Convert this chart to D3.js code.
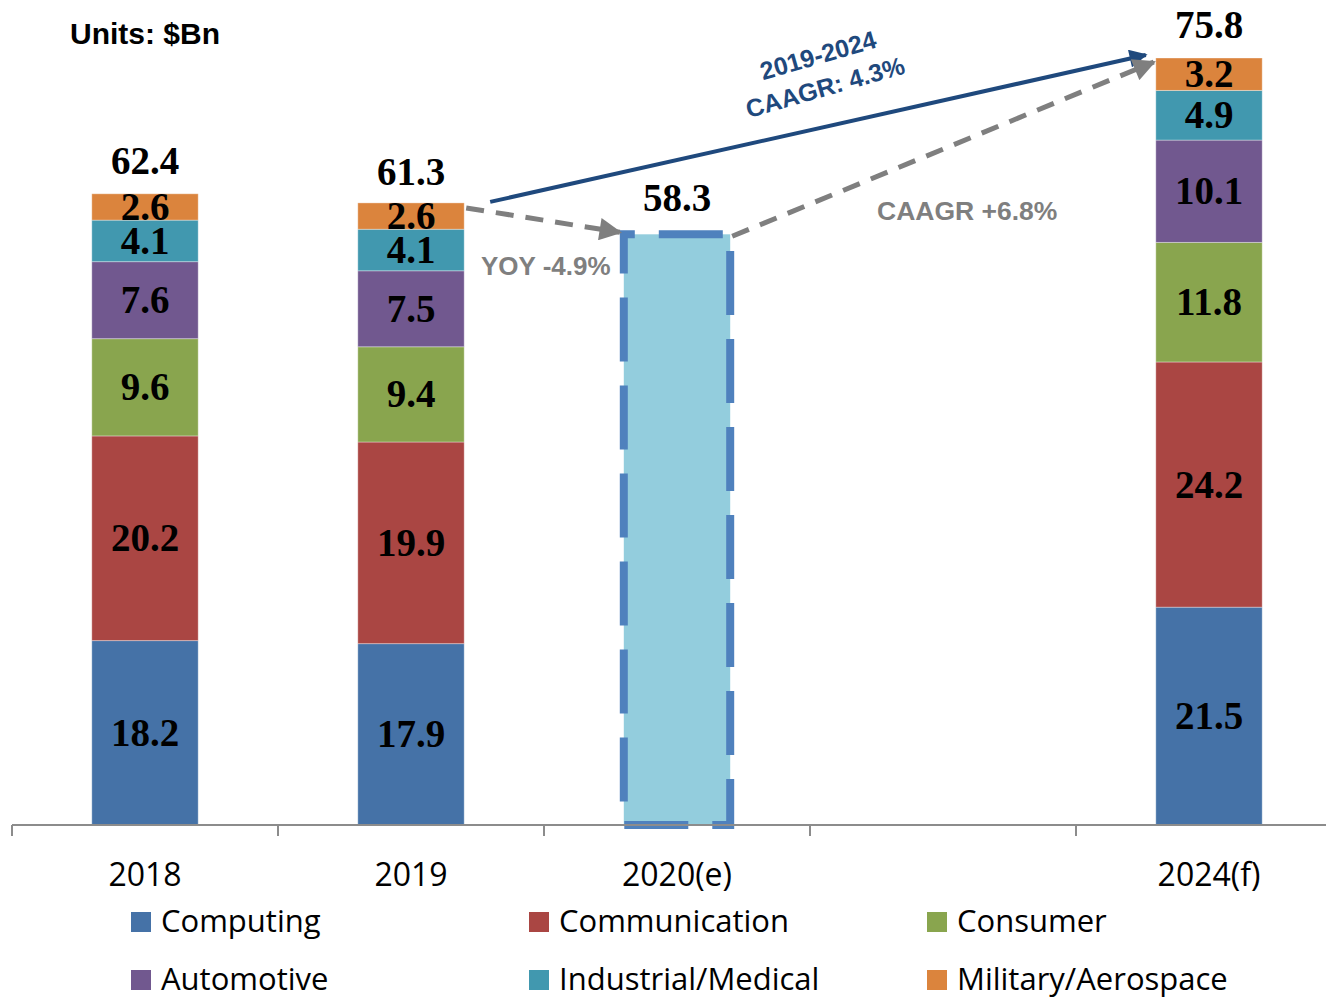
<!DOCTYPE html>
<html>
<head>
<meta charset="utf-8">
<script src="https://cdn.jsdelivr.net/npm/d3@7"></script>
<style>
  body { margin: 0; background: #fff; }
  svg { display: block; }
</style>
</head>
<body>
<div id="chart"></div>
<script>
// Chart data
const categories = ["2018", "2019", "2020(e)", "gap", "2024(f)"];
const tickLabels = ["2018", "2019", "2020(e)", "", "2024(f)"];
const segments = ["Computing", "Communication", "Consumer", "Automotive", "Industrial/Medical", "Military/Aerospace"];
const colors = ["#4572A7", "#AA4643", "#89A54E", "#71588F", "#4198AF", "#DB843D"];

const computing     = {"2018": 18.2, "2019": 17.9, "2024(f)": 21.5};
const communication = {"2018": 20.2, "2019": 19.9, "2024(f)": 24.2};
const consumer      = {"2018": 9.6,  "2019": 9.4,  "2024(f)": 11.8};
const automotive    = {"2018": 7.6,  "2019": 7.5,  "2024(f)": 10.1};
const industrial    = {"2018": 4.1,  "2019": 4.1,  "2024(f)": 4.9};
const military      = {"2018": 2.6,  "2019": 2.6,  "2024(f)": 3.2};
const totals        = {"2018": 62.4, "2019": 61.3, "2020(e)": 58.3, "2024(f)": 75.8};

const stackedYears = ["2018", "2019", "2024(f)"];
const estimateYear = "2020(e)";
const seriesValues = [computing, communication, consumer, automotive, industrial, military];

const width = 1326, height = 999;
const svg = d3.select("#chart").append("svg")
    .attr("width", width)
    .attr("height", height);

// Scales
const x = d3.scaleBand().domain(categories).range([12, 1342]).padding(0);
const barW = x.bandwidth() * 0.4;
const barX = c => x(c) + (x.bandwidth() - barW) / 2;
const y = d3.scaleLinear().domain([0, 75.8]).range([825, 57]);

// Build stacked rows
const rows = stackedYears.map(yr => {
    const r = {year: yr};
    segments.forEach((s, i) => r[s] = seriesValues[i][yr]);
    return r;
});
const stack = d3.stack().keys(segments)(rows);

// Bars
const layers = svg.append("g").selectAll("g")
    .data(stack)
    .enter().append("g")
    .attr("fill", (d, i) => colors[i]);

layers.selectAll("rect")
    .data(d => d)
    .enter().append("rect")
    .attr("x", d => barX(d.data.year))
    .attr("y", d => y(d[1]))
    .attr("width", barW)
    .attr("height", d => y(d[0]) - y(d[1]))
    .attr("stroke", "rgba(255,255,255,0.35)")
    .attr("stroke-width", 1);

// Segment value labels
layers.selectAll("text")
    .data((d, i) => d.map(v => ({v: v, key: segments[i]})))
    .enter().append("text")
    .attr("x", d => barX(d.v.data.year) + barW / 2)
    .attr("y", d => (y(d.v[0]) + y(d.v[1])) / 2 + 13)
    .attr("text-anchor", "middle")
    .attr("font-family", "Liberation Serif")
    .attr("font-weight", "bold")
    .attr("font-size", 39)
    .attr("fill", "#000")
    .text(d => d.v.data[d.key].toFixed(1));

// Estimated 2020 bar (dashed box)
const ex0 = barX(estimateYear), ex1 = ex0 + barW, eyTop = y(totals[estimateYear]), eyBot = y(0);
svg.append("rect")
    .attr("x", ex0).attr("y", eyTop)
    .attr("width", barW).attr("height", eyBot - eyTop)
    .attr("fill", "#93CDDD");
svg.append("path")
    .attr("d", `M${ex0},${eyTop}H${ex1}V${eyBot}H${ex0}Z`)
    .attr("fill", "none")
    .attr("stroke", "#4F81BD")
    .attr("stroke-width", 8)
    .attr("stroke-dasharray", "64 24")
    .attr("stroke-dashoffset", 53);

// X axis
const axis = svg.append("g");
axis.append("line")
    .attr("x1", 12).attr("x2", width)
    .attr("y1", y(0)).attr("y2", y(0))
    .attr("stroke", "#8C8C8C").attr("stroke-width", 2);
axis.selectAll(".tick")
    .data(categories)
    .enter().append("line")
    .attr("x1", d => x(d)).attr("x2", d => x(d))
    .attr("y1", y(0)).attr("y2", y(0) + 11)
    .attr("stroke", "#8C8C8C").attr("stroke-width", 2);
axis.selectAll(".lbl")
    .data(categories)
    .enter().append("text")
    .attr("x", d => x(d) + x.bandwidth() / 2)
    .attr("y", 886)
    .attr("text-anchor", "middle")
    .attr("font-family", "Open Sans")
    .attr("font-size", 32)
    .attr("fill", "#000")
    .text((d, i) => tickLabels[i]);

// Total labels
svg.selectAll(".total")
    .data(Object.keys(totals))
    .enter().append("text")
    .attr("x", d => x(d) + x.bandwidth() / 2)
    .attr("y", d => y(totals[d]) - (d === estimateYear ? 23 : 19))
    .attr("text-anchor", "middle")
    .attr("font-family", "Liberation Serif")
    .attr("font-weight", "bold")
    .attr("font-size", 39)
    .attr("fill", "#000")
    .text(d => totals[d].toFixed(1));

// Arrow markers
const defs = svg.append("defs");
function marker(id, color) {
    defs.append("marker")
        .attr("id", id)
        .attr("viewBox", "0 0 10 10")
        .attr("refX", 9).attr("refY", 5)
        .attr("markerWidth", 5).attr("markerHeight", 4.5)
        .attr("markerUnits", "strokeWidth")
        .attr("orient", "auto")
        .append("path")
        .attr("d", "M0,0L10,5L0,10Z")
        .attr("fill", color);
}
marker("arrBlue", "#1F497D");
marker("arrGray", "#7F7F7F");

// 2019 -> 2024 CAAGR arrow
svg.append("line")
    .attr("x1", barX("2019") + barW + 26).attr("y1", y(totals["2019"]) - 2)
    .attr("x2", barX("2024(f)") - 10).attr("y2", y(totals["2024(f)"]) - 2)
    .attr("stroke", "#1F497D").attr("stroke-width", 4)
    .attr("marker-end", "url(#arrBlue)");

// YOY dashed arrow 2019 -> 2020
svg.append("line")
    .attr("x1", barX("2019") + barW + 2).attr("y1", y(totals["2019"]) + 4)
    .attr("x2", ex0 - 4).attr("y2", eyTop - 2)
    .attr("stroke", "#7F7F7F").attr("stroke-width", 5)
    .attr("stroke-dasharray", "18 12")
    .attr("marker-end", "url(#arrGray)");

// 2020 -> 2024 dashed arrow
svg.append("line")
    .attr("x1", ex1 + 2).attr("y1", eyTop + 2)
    .attr("x2", barX("2024(f)") - 2).attr("y2", y(totals["2024(f)"]) + 5)
    .attr("stroke", "#7F7F7F").attr("stroke-width", 5)
    .attr("stroke-dasharray", "18 12")
    .attr("marker-end", "url(#arrGray)");

// Annotation texts
const annBlue = svg.append("g")
    .attr("font-family", "Liberation Sans")
    .attr("font-weight", "bold")
    .attr("font-size", 25)
    .attr("fill", "#1F497D")
    .attr("text-anchor", "middle");
annBlue.append("text")
    .attr("transform", "translate(818,55) rotate(-16)")
    .attr("dominant-baseline", "central")
    .text("2019-2024");
annBlue.append("text")
    .attr("transform", "translate(825,87) rotate(-16)")
    .attr("dominant-baseline", "central")
    .text("CAAGR: 4.3%");

svg.append("text")
    .attr("x", 481).attr("y", 275)
    .attr("font-family", "Liberation Sans").attr("font-weight", "bold")
    .attr("font-size", 26).attr("fill", "#7F7F7F")
    .text("YOY -4.9%");
svg.append("text")
    .attr("x", 877).attr("y", 220)
    .attr("font-family", "Liberation Sans").attr("font-weight", "bold")
    .attr("font-size", 26.5).attr("fill", "#7F7F7F")
    .text("CAAGR +6.8%");

// Units
svg.append("text")
    .attr("x", 70).attr("y", 44)
    .attr("font-family", "Liberation Sans").attr("font-weight", "bold")
    .attr("font-size", 30).attr("fill", "#000")
    .text("Units: $Bn");

// Legend
const legend = svg.append("g").selectAll("g")
    .data(segments)
    .enter().append("g")
    .attr("transform", (d, i) => `translate(${131 + (i % 3) * 398},${i < 3 ? 922 : 980})`);
legend.append("rect")
    .attr("x", 0).attr("y", -10)
    .attr("width", 20).attr("height", 20)
    .attr("fill", (d, i) => colors[i]);
legend.append("text")
    .attr("x", 30).attr("y", 10)
    .attr("font-family", "Open Sans")
    .attr("font-size", 31)
    .attr("fill", "#000")
    .text(d => d);
</script>
</body>
</html>
